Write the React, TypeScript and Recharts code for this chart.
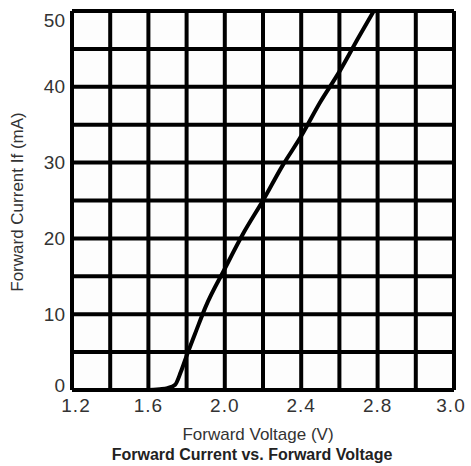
import { LineChart, Line, XAxis, YAxis, CartesianGrid } from 'recharts'

// forward voltage (V) vs forward current (mA)
const voltage = [1.49, 1.6, 1.66, 1.7, 1.74, 1.77, 1.8, 1.85, 1.9, 2.0, 2.1, 2.2, 2.3, 2.4, 2.5, 2.6, 2.7, 2.78]
const current = [0, 0, 0.1, 0.25, 0.7, 2.4, 4.5, 7.8, 11, 16, 20.8, 25, 29.5, 33.5, 38, 42, 46.5, 50]

// grid lines every 0.2 V; the original labels the last line "3.0"
const xTicks = [1.2, 1.4, 1.6, 1.8, 2.0, 2.2, 2.4, 2.6, 2.8, 3.0, 3.2]
const xTickLabels = ['1.2', '', '1.6', '', '2.0', '', '2.4', '', '2.8', '', '3.0']
const yTicks = [0, 5, 10, 15, 20, 25, 30, 35, 40, 45, 50]
const yTickLabels = ['0', '', '10', '', '20', '', '30', '', '40', '', '50']

const data = voltage.map((v, i) => ({ v, i: current[i] }))

const tickFont = { fontFamily: '"Liberation Sans", Arial, sans-serif', fontSize: 19, fill: '#333' }

function YTick(props: any) {
  const { x, y, payload, index } = props
  const label = yTickLabels[index] ?? ''
  if (!label) return null
  // top and bottom labels sit inside the plot in the original
  const shift = payload.value === 50 ? 9 : payload.value === 0 ? -5 : 0
  return (
    <text x={x} y={y + shift} dy="0.35em" textAnchor="end" {...tickFont}>
      {label}
    </text>
  )
}

function XTick(props: any) {
  const { x, y, index } = props
  const label = xTickLabels[index] ?? ''
  if (!label) return null
  const shift = index === 0 ? 4 : index === xTicks.length - 1 ? -3 : 0
  return (
    <text x={x + shift} y={y} dy="0.75em" textAnchor="middle" {...tickFont} letterSpacing={1}>
      {label}
    </text>
  )
}

export default function App() {
  return (
    <div style={{ position: 'relative', width: 471, height: 466, background: '#fff' }}>
      <style>{'body{margin:0}'}</style>
      <LineChart width={471} height={466} data={data} margin={{ top: 11, right: 17, bottom: 0, left: 0 }}>
        <CartesianGrid stroke="#000" strokeWidth={4} fill="#fdfdfd" />
        <XAxis
          dataKey="v"
          type="number"
          domain={[1.2, 3.2]}
          ticks={xTicks}
          interval={0}
          axisLine={false}
          tickLine={false}
          tickSize={0}
          tickMargin={8}
          height={76}
          tick={<XTick />}
        />
        <YAxis
          type="number"
          domain={[0, 50]}
          ticks={yTicks}
          interval={0}
          axisLine={false}
          tickLine={false}
          tickSize={0}
          tickMargin={7}
          width={72}
          tick={<YTick />}
        />
        <Line
          dataKey="i"
          type="monotone"
          stroke="#000"
          strokeWidth={4}
          dot={false}
          isAnimationActive={false}
        />
      </LineChart>
      <div
        style={{
          position: 'absolute', left: 18, top: 202, transform: 'translate(-50%, -50%) rotate(-90deg)',
          whiteSpace: 'nowrap', fontFamily: '"Liberation Sans", Arial, sans-serif', fontSize: 17, color: '#333',
        }}
      >
        Forward Current If (mA)
      </div>
      <div
        style={{
          position: 'absolute', left: 0, width: 516, top: 425, textAlign: 'center',
          fontFamily: '"Liberation Sans", Arial, sans-serif', fontSize: 17, color: '#333', lineHeight: '20px',
        }}
      >
        Forward Voltage (V)
      </div>
      <div
        style={{
          position: 'absolute', left: 0, width: 504, top: 445, textAlign: 'center',
          fontFamily: '"Liberation Sans", Arial, sans-serif', fontSize: 16, fontWeight: 'bold', color: '#222', lineHeight: '20px',
        }}
      >
        Forward Current vs. Forward Voltage
      </div>
    </div>
  )
}
